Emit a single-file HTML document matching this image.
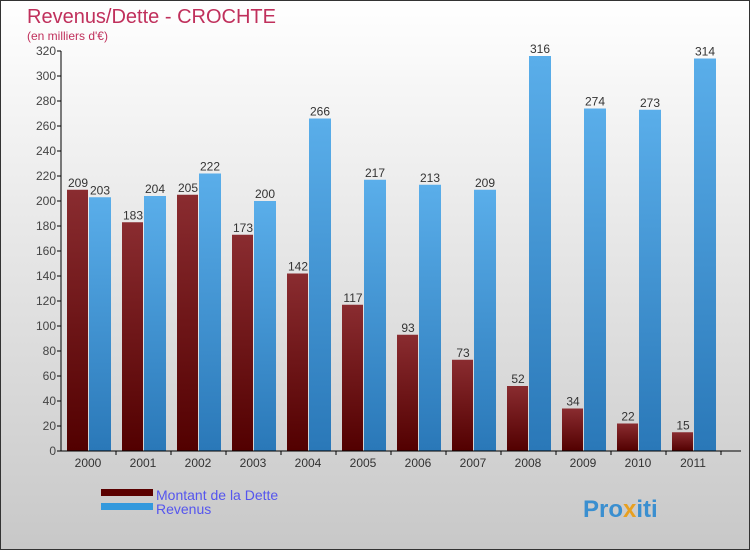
<!DOCTYPE html>
<html><head><meta charset="utf-8"><style>
body{margin:0}
#c{width:748px;height:548px;border:1px solid #333;background:linear-gradient(#fff,#c8c8c8);position:relative;font-family:"Liberation Sans",sans-serif;overflow:hidden}
</style></head><body>
<div id="c">
<svg id="s" width="748" height="548" style="position:absolute;left:0;top:0">
<defs>
<linearGradient id="gd" x1="0" x2="0" y1="0" y2="1"><stop offset="0" stop-color="#8a2c30"/><stop offset="1" stop-color="#520000"/></linearGradient>
<linearGradient id="gr" x1="0" x2="0" y1="0" y2="1"><stop offset="0" stop-color="#5aaeea"/><stop offset="1" stop-color="#2a78b8"/></linearGradient>
</defs>
<text x="26" y="22" font-size="20" fill="#c0305c">Revenus/Dette - CROCHTE</text>
<text x="26" y="39" font-size="12" fill="#c0305c">(en milliers d'€)</text>
<g id="plot"></g>
<rect x="100" y="488" width="52" height="7" fill="#5a0000"/>
<rect x="100" y="502" width="52" height="7" fill="#3399dd"/>
<text x="155" y="499" font-size="14" fill="#5555ee">Montant de la Dette</text>
<text x="155" y="513" font-size="14" fill="#5555ee">Revenus</text>
<text x="582" y="516" font-size="24" font-weight="bold" fill="#3a8fd0">Pro<tspan fill="#e8a020">x</tspan>iti</text>
</svg>
</div>
<script>
const years=["2000","2001","2002","2003","2004","2005","2006","2007","2008","2009","2010","2011"];
const dette=[209,183,205,173,142,117,93,73,52,34,22,15];
const revenus=[203,204,222,200,266,217,213,209,316,274,273,314];
const ticks=[0,20,40,60,80,100,120,140,160,180,200,220,240,260,280,300,320];
const ns="http://www.w3.org/2000/svg";
const g=document.getElementById('plot');
const X0=60,Y0=450,K=400/320,GW=55;
const y=v=>Y0-v*K;
function mk(t,a){const e=document.createElementNS(ns,t);for(const k in a)e.setAttribute(k,a[k]);g.appendChild(e);return e;}
for(const t of ticks){
 mk('line',{x1:X0-4,x2:X0,y1:y(t),y2:y(t),stroke:'#000'});
 const e=mk('text',{x:X0-5,y:y(t)+4,'font-size':12,fill:'#444','text-anchor':'end'});
 e.textContent=t;
 
 
}
years.forEach((yr,i)=>{
 const gx=X0+i*GW;
 const d=mk('rect',{x:gx+6,y:y(dette[i]),width:21,height:dette[i]*K,fill:'url(#gd)'});
 
 
 const r=mk('rect',{x:gx+28,y:y(revenus[i]),width:22,height:revenus[i]*K,fill:'url(#gr)'});
 
 
 const l1=mk('text',{x:gx+17,y:y(dette[i])-3,'font-size':12,fill:'#333','text-anchor':'middle'});l1.textContent=dette[i];
 
 
 const l2=mk('text',{x:gx+39,y:y(revenus[i])-3,'font-size':12,fill:'#333','text-anchor':'middle'});l2.textContent=revenus[i];
 
 
 mk('line',{x1:gx+GW,x2:gx+GW,y1:Y0,y2:Y0+4,stroke:'#000'});
 const xl=mk('text',{x:gx+27,y:Y0+16,'font-size':12,fill:'#333','text-anchor':'middle'});xl.textContent=yr;
 
 
});
mk('line',{x1:X0,x2:X0,y1:y(320),y2:Y0,stroke:'#000'});
mk('line',{x1:X0,x2:740,y1:Y0,y2:Y0,stroke:'#000'});
</script>
</body></html>
